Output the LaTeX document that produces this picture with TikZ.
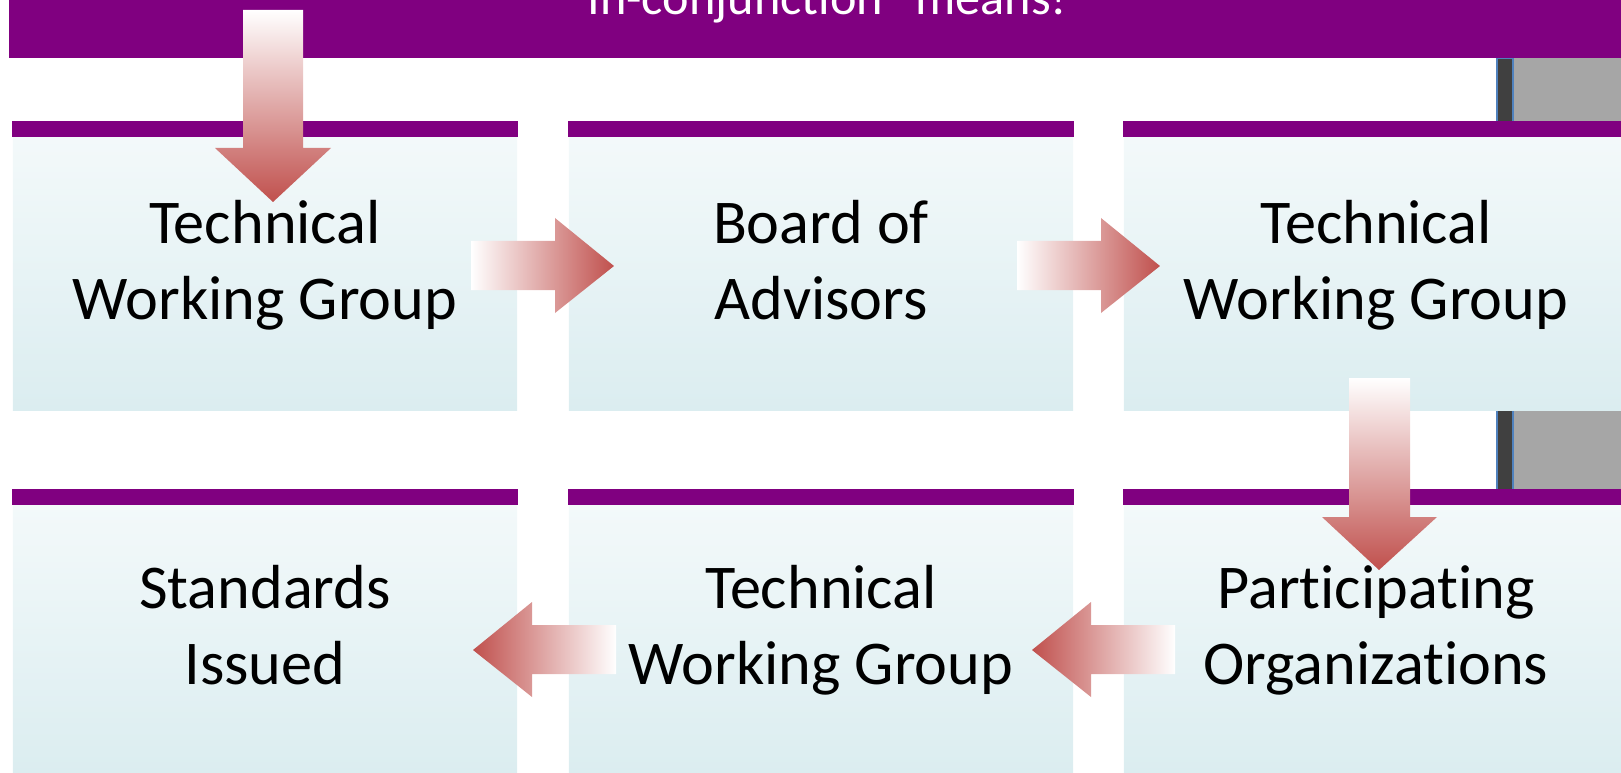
\documentclass[tikz,border=0pt]{standalone}
\usepackage{fontspec}
\setmainfont{Carlito}[Ligatures={TeX,NoCommon}]
\usepackage{tikz}

\definecolor{purp}{RGB}{128,0,128}
\definecolor{arrowred}{RGB}{192,80,77}
\definecolor{boxtop}{RGB}{243,249,250}
\definecolor{boxbot}{RGB}{219,237,240}
\definecolor{panelgray}{RGB}{166,166,166}
\definecolor{paneldark}{RGB}{64,64,64}
\definecolor{panelblue}{RGB}{79,129,189}

\tikzset{
  stagebox/.style={top color=boxtop, bottom color=boxbot, inner sep=0pt,
    minimum width=5.04cm, minimum height=2.72cm},
  lowbox/.style={stagebox, minimum height=2.67cm},
  stagetext/.style={align=center, inner sep=0pt,
    font=\fontsize{17.7}{21.6}\selectfont,
    execute at begin node=\strut, execute at end node=\strut},
  arrowright/.style={left color=white, right color=arrowred},
  arrowleft/.style={left color=arrowred, right color=white},
  arrowdown/.style={top color=white, bottom color=arrowred}
}

\begin{document}
\begin{tikzpicture}[x=0.01cm,y=-0.01cm]
\useasboundingbox (0,0) rectangle (1621,773);
\fill[panelgray] (1513,58) rectangle (1621,773);
\filldraw[fill=paneldark, draw=panelblue, line width=0.3pt] (1497,58) rectangle (1513,773);

\node[stagebox] (b1) at (265,274) {};
\node[stagebox] (b2) at (821,274) {};
\node[stagebox] (b3) at (1376,274) {};
\node[lowbox] (b4) at (265,639.5) {};
\node[lowbox] (b5) at (821,639.5) {};
\node[lowbox] (b6) at (1376,639.5) {};
\foreach \b in {b1,b2,b3,b4,b5,b6}
  \fill[purp] ([yshift=0.16cm]\b.north west) rectangle (\b.north east);

\node[stagetext] (t1) at ([yshift=0.03cm]b1) {Technical\\Working Group};
\node[stagetext] (t2) at ([yshift=0.03cm]b2) {Board of\\Advisors};
\node[stagetext] (t3) at ([yshift=0.03cm]b3) {Technical\\Working Group};
\node[stagetext] (t4) at ([yshift=0.03cm]b4) {Standards\\Issued};
\node[stagetext] (t5) at ([yshift=0.03cm]b5) {Technical\\Working Group};
\node[stagetext] (t6) at ([yshift=0.03cm]b6) {Participating\\Organizations};

\fill[purp] (9,0) rectangle (1621,58);
\node[anchor=base east, text=white, inner sep=0pt, font=\fontsize{14.3}{17}\selectfont] (title) at (1068,15) {``In-conjunction'' means!};

\shade[arrowdown] (243,10) -- (303,10) -- (303,148) -- (331,148) -- (273,202) -- (215,148) -- (243,148) -- cycle;
\shade[arrowright] (471,241) -- (555,241) -- (555,218) -- (614,266) -- (555,313) -- (555,290) -- (471,290) -- cycle;
\shade[arrowright] (1017,241) -- (1101,241) -- (1101,218) -- (1160,266) -- (1101,313) -- (1101,290) -- (1017,290) -- cycle;
\shade[arrowdown] (1349,378) -- (1410,378) -- (1410,517) -- (1437,517) -- (1379,570) -- (1322,517) -- (1349,517) -- cycle;
\shade[arrowleft] (1175,625) -- (1091,625) -- (1091,602) -- (1032,650) -- (1091,697) -- (1091,674) -- (1175,674) -- cycle;
\shade[arrowleft] (616,625) -- (532,625) -- (532,602) -- (473,650) -- (532,697) -- (532,674) -- (616,674) -- cycle;
\end{tikzpicture}
\end{document}
